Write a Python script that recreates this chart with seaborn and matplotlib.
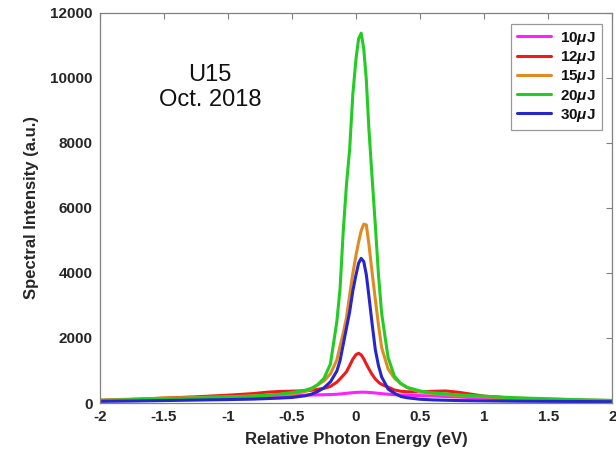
import matplotlib
matplotlib.use("Agg")
import matplotlib.pyplot as plt
import seaborn as sns
import pandas as pd

energy = [-2.0, -1.75, -1.5, -1.25, -1.0, -0.8, -0.7, -0.6, -0.5, -0.4, -0.35, -0.3,
          -0.25, -0.2, -0.15, -0.125, -0.1, -0.075, -0.05, -0.025, 0.0, 0.02, 0.04,
          0.06, 0.08, 0.1, 0.125, 0.15, 0.175, 0.2, 0.25, 0.3, 0.35, 0.4, 0.5, 0.6,
          0.7, 0.8, 0.9, 1.0, 1.25, 1.5, 1.75, 2.0]

i10 = [70, 90, 120, 140, 170, 195, 210, 220, 230, 240, 245, 250,
       255, 260, 270, 278, 288, 298, 308, 318, 325, 330, 332,
       332, 330, 325, 318, 308, 298, 288, 270, 255, 245, 238, 228, 218,
       200, 185, 165, 150, 120, 100, 80, 60]
i12 = [80, 110, 150, 190, 240, 290, 330, 355, 365, 375, 390, 420,
       450, 510, 640, 740, 850, 960, 1150, 1350, 1490, 1530, 1480,
       1360, 1200, 1050, 880, 740, 640, 570, 490, 400, 360, 345, 345, 360,
       370, 330, 270, 210, 140, 100, 75, 55]
i15 = [90, 120, 150, 170, 190, 220, 240, 260, 280, 350, 420, 560,
       680, 900, 1320, 1750, 2150, 2620, 3320, 3990, 4550, 4950, 5300,
       5500, 5480, 4900, 4030, 3200, 2400, 1700, 1050, 760, 590, 470, 340, 290,
       255, 230, 210, 190, 150, 120, 95, 75]
i20 = [80, 100, 130, 150, 180, 210, 240, 270, 320, 390, 450, 560,
       760, 1200, 2500, 3500, 5280, 6700, 7800, 9500, 10600, 11200, 11375,
       10900, 9950, 8450, 6950, 5500, 3950, 2750, 1400, 820, 600, 480, 370, 310,
       280, 250, 230, 210, 160, 130, 100, 80]
i30 = [50, 60, 75, 90, 105, 120, 135, 150, 170, 220, 270, 350,
       470, 650, 980, 1300, 1800, 2300, 2800, 3450, 3950, 4300, 4450,
       4350, 3950, 3300, 2450, 1650, 1150, 800, 430, 300, 200, 160, 115, 95,
       85, 75, 70, 65, 55, 50, 45, 40]

labels = [r"10$\mu$J", r"12$\mu$J", r"15$\mu$J", r"20$\mu$J", r"30$\mu$J"]
series = [i10, i12, i15, i20, i30]
colors = ["#FF20FF", "#F01A1A", "#E08A22", "#22CC22", "#2626CC"]

rows = []
for lab, ys in zip(labels, series):
    for xv, yv in zip(energy, ys):
        rows.append({"energy": xv, "intensity": yv, "pulse": lab})
df = pd.DataFrame(rows)

sns.set_theme(style="white")
plt.rcParams["font.family"] = ["Liberation Sans", "DejaVu Sans"]
plt.rcParams["mathtext.fontset"] = "custom"
plt.rcParams["mathtext.it"] = "Liberation Sans:italic:bold"
plt.rcParams["mathtext.rm"] = "Liberation Sans:bold"
plt.rcParams["lines.solid_joinstyle"] = "round"
plt.rcParams["lines.solid_capstyle"] = "round"

fig = plt.figure(figsize=(6.16, 4.59), dpi=100)
ax = fig.add_axes([0.162, 0.122, 0.832, 0.850])

sns.lineplot(data=df, x="energy", y="intensity", hue="pulse", hue_order=labels,
             palette=dict(zip(labels, colors)), linewidth=2.2, ax=ax, sort=True)

ax.set_xlim(-2, 2)
ax.set_ylim(0, 12000)
ax.set_xticks([-2, -1.5, -1, -0.5, 0, 0.5, 1, 1.5, 2])
ax.set_xticklabels(["-2", "-1.5", "-1", "-0.5", "0", "0.5", "1", "1.5", "2"])
ax.set_yticks([0, 2000, 4000, 6000, 8000, 10000, 12000])
ax.set_yticklabels(["0", "2000", "4000", "6000", "8000", "10000", "12000"])
ax.tick_params(direction="in", length=4, width=0.8, color="#808080",
               top=True, right=True, labelsize=11, labelcolor="#262626", pad=5)
for lab in ax.get_xticklabels() + ax.get_yticklabels():
    lab.set_fontweight("bold")
for sp in ax.spines.values():
    sp.set_color("#808080")
    sp.set_linewidth(0.9)

ax.set_xlabel("Relative Photon Energy (eV)", fontsize=12, fontweight="bold",
              color="#262626", labelpad=6)
ax.set_ylabel("Spectral Intensity (a.u.)", fontsize=12, fontweight="bold",
              color="#262626", labelpad=8)

ax.text(-1.14, 9700, "U15\nOct. 2018", ha="center", va="center", fontsize=17,
        color="#111111", linespacing=1.2)

leg = ax.legend(loc="upper right", fontsize=11, frameon=True, fancybox=False,
                edgecolor="#808080", handlelength=2.2, borderpad=0.4,
                labelspacing=0.15, handletextpad=0.6, borderaxespad=0.7)
leg.get_frame().set_linewidth(0.9)
for t in leg.get_texts():
    t.set_fontweight("bold")
    t.set_color("#111111")

fig.savefig("out.png", dpi=100)
